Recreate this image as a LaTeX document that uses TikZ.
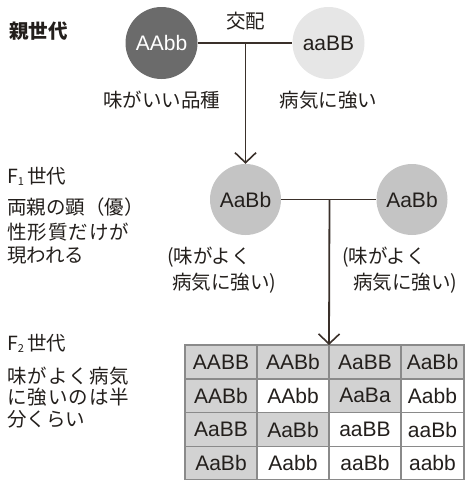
\documentclass[tikz,border=0pt]{standalone}
\usepackage{fontspec}
\setmainfont{Liberation Sans}
\newfontfamily\jp{Noto Sans CJK JP}
\usetikzlibrary{arrows.meta}
\definecolor{lineC}{HTML}{3A302A}
\definecolor{darkC}{HTML}{6B6B6B}
\definecolor{lightC}{HTML}{E6E6E6}
\definecolor{midC}{HTML}{C4C4C4}
\definecolor{cellG}{HTML}{D2D2D2}
\definecolor{gridC}{HTML}{8A8A8A}
\definecolor{txtC}{HTML}{231F1C}
\newcommand{\jsp}{\kern1pt}
\tikzset{
  circ/.style={circle, inner sep=0pt, minimum size=72pt, font=\fontsize{21}{21}\selectfont, text=txtC},
  jtxt/.style={font=\jp\fontsize{19.5}{19.5}\selectfont, text=txtC, inner sep=0pt},
  conn/.style={draw=lineC, line width=1.8pt},
  arr/.style={conn, -{Straight Barb[length=10pt,width=21pt,line width=1.6pt]}},
  cellbox/.style={draw=gridC, line width=1.3pt, minimum height=33.75pt, inner sep=0pt, font=\fontsize{21}{21}\selectfont, text=txtC},
  gcell/.style={cellbox, fill=cellG},
  wcell/.style={cellbox, fill=white},
}
\begin{document}
\begin{tikzpicture}[x=1pt,y=-1pt]
\useasboundingbox (0,0) rectangle (467,480);
% parents
\node[circ, fill=darkC, text=white] (p1) at (161.5,43) {AAbb};
\node[circ, fill=lightC] (p2) at (328.5,43) {aaBB};
\node[jtxt] (kohai) at (245.5,21) {交配};
\node[jtxt] (lab1) at (161.5,100) {味がいい品種};
\node[jtxt] (lab2) at (328.5,100) {病気に強い};
\node[jtxt, font=\jp\bfseries\fontsize{19.5}{19.5}\selectfont, anchor=west] (gen0) at (9,31) {親世代};
\draw[conn] (p1.east) -- (p2.west);
\coordinate (j1) at (245.5,43);
% F1
\node[circ, fill=midC, minimum size=71pt] (f1a) at (245.5,199.5) {AaBb};
\node[circ, fill=midC, minimum size=71pt] (f1b) at (412,199.5) {AaBb};
\draw[arr] (j1) -- (f1a.north);
\draw[conn] (f1a.east) -- (f1b.west);
\coordinate (j2) at (329.5,199.5);
\node[jtxt, anchor=west] (f1al1) at (167,257) {(味がよく};
\node[jtxt, anchor=west] (f1al2) at (172,283) {病気に強い)};
\node[jtxt, anchor=west] (f1bl1) at (342,257) {(味がよく};
\node[jtxt, anchor=west] (f1bl2) at (353,283) {病気に強い)};
\node[jtxt, anchor=west] (gen1) at (7,176) {F\raisebox{-0.1em}{\fontsize{11}{11}\selectfont 1}\,世代};
\node[jtxt, anchor=west] (d1a) at (7,207) {両親の顕（優）};
\node[jtxt, anchor=west] (d1b) at (7,232) {性\jsp 形\jsp 質\jsp だ\jsp け\jsp が};
\node[jtxt, anchor=west] (d1c) at (7,256) {現われる};
% F2
\node[jtxt, anchor=west] (gen2) at (7,343) {F\raisebox{-0.1em}{\fontsize{11}{11}\selectfont 2}\,世代};
\node[jtxt, anchor=west] (d2a) at (7,376) {味\jsp が\jsp よ\jsp く\jsp 病\jsp 気};
\node[jtxt, anchor=west] (d2b) at (7,397.5) {に\jsp 強\jsp い\jsp の\jsp は\jsp 半};
\node[jtxt, anchor=west] (d2c) at (7,419) {分くらい};
% table
\node[gcell, minimum width=72pt] (c11) at (221,362) {AABB};
\node[gcell, minimum width=72pt] (c12) at (293,362) {AABb};
\node[gcell, minimum width=72pt] (c13) at (365,362) {AaBB};
\node[gcell, minimum width=63pt] (c14) at (432.5,362) {AaBb};
\node[gcell, minimum width=72pt] (c21) at (221,395.75) {AABb};
\node[wcell, minimum width=72pt] (c22) at (293,395.75) {AAbb};
\node[gcell, minimum width=72pt] (c23) at (365,395.75) {AaBa};
\node[wcell, minimum width=63pt] (c24) at (432.5,395.75) {Aabb};
\node[gcell, minimum width=72pt] (c31) at (221,429.5) {AaBB};
\node[gcell, minimum width=72pt] (c32) at (293,429.5) {AaBb};
\node[wcell, minimum width=72pt] (c33) at (365,429.5) {aaBB};
\node[wcell, minimum width=63pt] (c34) at (432.5,429.5) {aaBb};
\node[gcell, minimum width=72pt] (c41) at (221,463.25) {AaBb};
\node[wcell, minimum width=72pt] (c42) at (293,463.25) {Aabb};
\node[wcell, minimum width=72pt] (c43) at (365,463.25) {aaBb};
\node[wcell, minimum width=63pt] (c44) at (432.5,463.25) {aabb};
\coordinate (ttop) at (329,345);
\draw[arr] (j2) -- (ttop);
\end{tikzpicture}
\end{document}
